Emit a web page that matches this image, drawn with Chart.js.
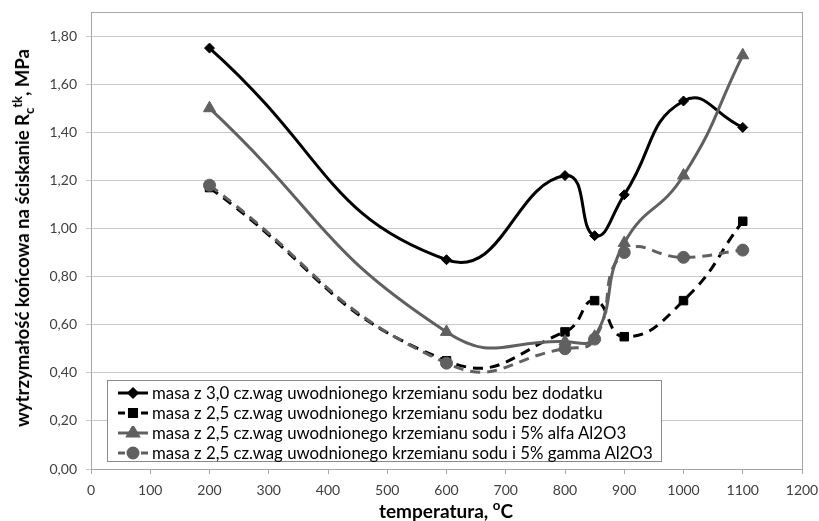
<!DOCTYPE html>
<html>
<head>
<meta charset="utf-8">
<script src="https://cdn.jsdelivr.net/npm/chart.js@4"></script>
<style>
  html, body { margin: 0; padding: 0; background: #fff; }
  #wrap { position: relative; width: 819px; height: 521px; }
  #c { position: absolute; left: 0; top: 0; }
  .ytitle { position: absolute; left: 22px; top: 238px; transform: translate(-50%, -50%) rotate(-90deg);
    font: bold 18.5px Lato, sans-serif; color: #000; white-space: nowrap; }
  .xtitle { position: absolute; left: 446px; top: 510px; transform: translate(-50%, -50%);
    font: bold 19px Lato, sans-serif; color: #000; white-space: nowrap; }
  sub, sup { font-size: 70%; line-height: 0; }
  #legend { position: absolute; left: 107px; top: 380px; width: 555px; height: 82px; border: 1px solid #8a8a8a;
    background: #fff; font: 16.8px Lato, sans-serif; color: #000; box-sizing: border-box; padding-top: 2px; }
  .row { height: 20px; line-height: 20px; white-space: nowrap; display: flex; align-items: center; }
  .row canvas { margin-left: 10px; margin-right: 4px; }
</style>
</head>
<body>
<div id="wrap">
  <canvas id="c" width="819" height="521"></canvas>
  <div class="ytitle">wytrzymałość końcowa na ściskanie R<sub>c</sub><sup>tk</sup>, MPa</div>
  <div class="xtitle">temperatura, <sup>o</sup>C</div>
  <div id="legend"></div>
</div>
<script>
const temperatures = [200, 600, 800, 850, 900, 1000, 1100];
const seriesNames = [
  "masa z 3,0 cz.wag uwodnionego krzemianu sodu bez dodatku",
  "masa z 2,5 cz.wag uwodnionego krzemianu sodu bez dodatku",
  "masa z 2,5 cz.wag uwodnionego krzemianu sodu i 5% alfa Al2O3",
  "masa z 2,5 cz.wag uwodnionego krzemianu sodu i 5% gamma Al2O3"
];
const s1 = [1.75, 0.87, 1.22, 0.97, 1.14, 1.53, 1.42];
const s2 = [1.17, 0.45, 0.57, 0.70, 0.55, 0.70, 1.03];
const s3 = [1.50, 0.57, 0.53, 0.55, 0.94, 1.22, 1.72];
const s4 = [1.18, 0.44, 0.50, 0.54, 0.90, 0.88, 0.91];
const xTicks = [0, 100, 200, 300, 400, 500, 600, 700, 800, 900, 1000, 1100, 1200];
const yTicks = [0, 0.2, 0.4, 0.6, 0.8, 1.0, 1.2, 1.4, 1.6, 1.8];

const BLACK = '#000000', GRAY = '#606060';
const styles = [
  { color: BLACK, dash: [], pointStyle: 'rectRot', radius: 5 },
  { color: BLACK, dash: [10, 7], pointStyle: 'rect', radius: 6 },
  { color: GRAY, dash: [], pointStyle: 'triangle', radius: 7 },
  { color: GRAY, dash: [10, 7], pointStyle: 'circle', radius: 6 }
];
const values = [s1, s2, s3, s4];

const datasets = values.map((vals, i) => ({
  label: seriesNames[i],
  data: temperatures.map((t, k) => ({ x: t, y: vals[k] })),
  borderColor: styles[i].color,
  backgroundColor: styles[i].color,
  borderWidth: 3,
  borderDash: styles[i].dash,
  tension: 0.5,
  pointStyle: styles[i].pointStyle,
  pointRadius: styles[i].radius,
  pointBorderWidth: 1,
  pointBorderColor: styles[i].color,
  pointBackgroundColor: styles[i].color
})).reverse();

const framePlugin = {
  id: 'frame',
  beforeDatasetsDraw(chart) {
    const a = chart.chartArea, ctx = chart.ctx;
    ctx.save();
    ctx.strokeStyle = '#a6a6a6';
    ctx.lineWidth = 1;
    ctx.strokeRect(a.left + 0.5, a.top + 0.5, a.right - a.left, a.bottom - a.top);
    ctx.restore();
  }
};

new Chart(document.getElementById('c'), {
  type: 'line',
  data: { datasets },
  options: {
    responsive: false,
    animation: false,
    layout: { padding: { left: 0, right: 17, top: 12, bottom: 0 } },
    plugins: { legend: { display: false }, tooltip: { enabled: false } },
    scales: {
      x: {
        type: 'linear', min: 0, max: 1200,
        afterBuildTicks: (s) => { s.ticks = xTicks.map(v => ({ value: v })); },
        afterFit: (s) => { s.height = 52; s.paddingLeft = 0; s.paddingRight = 0; },
        grid: { drawOnChartArea: false, drawTicks: true, tickLength: 5, color: '#a6a6a6' },
        border: { color: '#a6a6a6' },
        ticks: { color: '#404040', font: { family: 'Lato', size: 14 }, padding: 8, maxRotation: 0, autoSkip: false,
          callback: (v) => String(v) }
      },
      y: {
        type: 'linear', min: 0, max: 1.9,
        afterBuildTicks: (s) => { s.ticks = yTicks.map(v => ({ value: v })); },
        afterFit: (s) => { s.width = 91; s.paddingTop = 0; s.paddingBottom = 0; },
        grid: { color: '#c8c8c8', tickLength: 5, lineWidth: 1 },
        border: { color: '#a6a6a6' },
        ticks: { color: '#404040', font: { family: 'Lato', size: 14 }, padding: 9,
          callback: (v) => v.toFixed(2).replace('.', ',') }
      }
    }
  },
  plugins: [framePlugin]
});

// legend
const leg = document.getElementById('legend');
seriesNames.forEach((name, i) => {
  const row = document.createElement('div');
  row.className = 'row';
  const cv = document.createElement('canvas');
  cv.width = 30; cv.height = 14;
  const g = cv.getContext('2d');
  const st = styles[i];
  g.strokeStyle = st.color; g.fillStyle = st.color; g.lineWidth = 3;
  g.beginPath();
  if (st.dash.length) { g.moveTo(0, 7); g.lineTo(7, 7); g.moveTo(23, 7); g.lineTo(30, 7); }
  else { g.moveTo(0, 7); g.lineTo(30, 7); }
  g.stroke();
  Chart.helpers.drawPoint(g, { pointStyle: st.pointStyle, radius: st.radius - 1, borderWidth: 1 }, 15, 7);
  g.fill();
  row.appendChild(cv);
  const sp = document.createElement('span');
  sp.textContent = name;
  row.appendChild(sp);
  leg.appendChild(row);
});
</script>
</body>
</html>
